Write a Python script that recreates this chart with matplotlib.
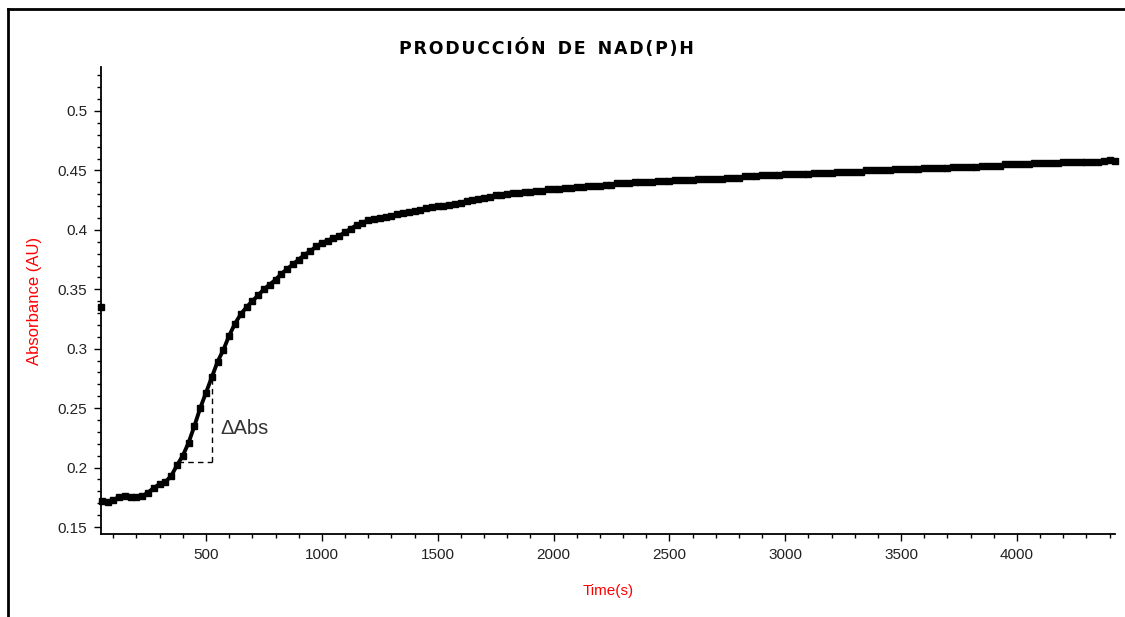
import matplotlib.pyplot as plt
import numpy as np
from matplotlib.lines import Line2D
from matplotlib.ticker import MultipleLocator

# First reading (before mixing) sits apart from the kinetic trace
first_t = 45
first_abs = 0.335

# Absorbance readings, one every 25 s starting at 50 s
time_s = np.arange(50, 4426, 25)
absorbance = [
    0.172, 0.171, 0.173, 0.175, 0.176, 0.175, 0.175, 0.176, 0.179, 0.183,
    0.186, 0.188, 0.193, 0.202, 0.210, 0.221, 0.235, 0.250, 0.263, 0.276,
    0.289, 0.299, 0.311, 0.321, 0.329, 0.335, 0.340, 0.345, 0.350, 0.354,
    0.358, 0.363, 0.367, 0.371, 0.375, 0.379, 0.382, 0.386, 0.389, 0.391,
    0.393, 0.395, 0.398, 0.401, 0.404, 0.406, 0.408, 0.409, 0.410, 0.411,
    0.412, 0.413, 0.414, 0.415, 0.416, 0.417, 0.418, 0.419, 0.420, 0.420,
    0.421, 0.422, 0.423, 0.424, 0.425, 0.426, 0.427, 0.428, 0.429, 0.429,
    0.430, 0.431, 0.431, 0.432, 0.432, 0.433, 0.433, 0.434, 0.434, 0.434,
    0.435, 0.435, 0.436, 0.436, 0.437, 0.437, 0.437, 0.438, 0.438, 0.439,
    0.439, 0.439, 0.440, 0.440, 0.440, 0.440, 0.441, 0.441, 0.441, 0.442,
    0.442, 0.442, 0.442, 0.443, 0.443, 0.443, 0.443, 0.443, 0.444, 0.444,
    0.444, 0.445, 0.445, 0.445, 0.446, 0.446, 0.446, 0.446, 0.447, 0.447,
    0.447, 0.447, 0.447, 0.448, 0.448, 0.448, 0.448, 0.449, 0.449, 0.449,
    0.449, 0.449, 0.450, 0.450, 0.450, 0.450, 0.450, 0.451, 0.451, 0.451,
    0.451, 0.451, 0.452, 0.452, 0.452, 0.452, 0.452, 0.453, 0.453, 0.453,
    0.453, 0.453, 0.454, 0.454, 0.454, 0.454, 0.455, 0.455, 0.455, 0.455,
    0.455, 0.456, 0.456, 0.456, 0.456, 0.456, 0.457, 0.457, 0.457, 0.457,
    0.457, 0.457, 0.457, 0.458, 0.459, 0.458,
]

# Interval used for the initial-rate estimate (ΔAbs)
delta_t = [379, 526]
delta_abs = [0.205, 0.275]

fig = plt.figure(figsize=(11.25, 6.17), dpi=100)
ax = fig.add_axes([0.0898, 0.1345, 0.9013, 0.7569])

# Page frame: left and top edges
fig.add_artist(Line2D([0.0075, 0.0075], [0, 0.986], color='black', lw=2, transform=fig.transFigure))
fig.add_artist(Line2D([0.0075, 1.0], [0.986, 0.986], color='black', lw=2, transform=fig.transFigure))

ax.plot(time_s, absorbance, linestyle='-', lw=2.8, marker='s', markersize=4,
        color='black', clip_on=False)
ax.plot([first_t], [first_abs], linestyle='none', marker='s', markersize=3.8,
        color='black', clip_on=False)

# ΔAbs construction
ax.plot([delta_t[0], delta_t[1]], [delta_abs[0], delta_abs[0]], '--', color='black', lw=1, dashes=(4, 3))
ax.plot([delta_t[1], delta_t[1]], [delta_abs[0], delta_abs[1]], '--', color='black', lw=1, dashes=(4, 3))
ax.text(delta_t[1] + 35, 0.233, 'ΔAbs', fontsize=14.5, color='#333333',
        family='Liberation Sans', va='center', ha='left')

ax.set_xlim(47, 4423)
ax.set_ylim(0.1441, 0.537)
ax.xaxis.set_major_locator(MultipleLocator(500))
ax.xaxis.set_minor_locator(MultipleLocator(100))
ax.yaxis.set_major_locator(MultipleLocator(0.05))
ax.yaxis.set_minor_locator(MultipleLocator(0.01))
ax.yaxis.set_major_formatter(plt.FuncFormatter(lambda v, p: f'{v:g}'))

for side in ['top', 'right']:
    ax.spines[side].set_visible(False)
for side in ['left', 'bottom']:
    ax.spines[side].set_linewidth(1.3)
ax.tick_params(which='major', direction='out', length=5, width=1, labelsize=11,
               labelcolor='#222222', pad=5)
ax.tick_params(which='minor', direction='out', length=3, width=1)
for lbl in ax.get_xticklabels() + ax.get_yticklabels():
    lbl.set_family('Liberation Sans')

ax.set_xlabel('Time(s)', color='red', fontsize=11, family='Liberation Sans', labelpad=16)
ax.set_ylabel('Absorbance (AU)', color='red', fontsize=12, family='Liberation Sans', labelpad=11)

sp = '\u200a'
title = '  '.join(sp.join(word) for word in ['PRODUCCIÓN', 'DE', 'NAD(P)H'])
fig.text(0.4853, 0.922, title, ha='center', va='center',
         fontsize=12.5, fontweight='heavy', family='DejaVu Sans')

fig.savefig('out.png', dpi=100)
